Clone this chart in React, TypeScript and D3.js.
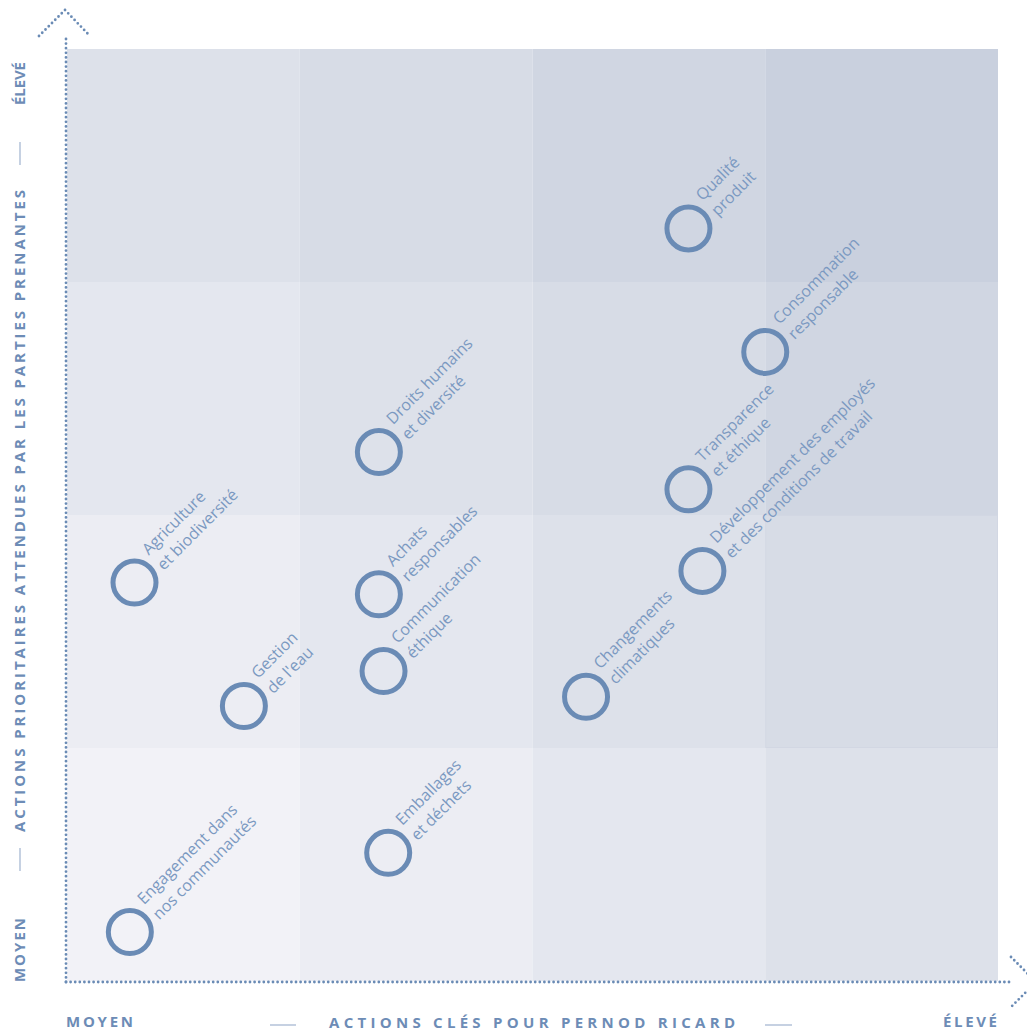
import React from "react";
import * as d3 from "d3";

const labelLine1 = [
  "Qualité",
  "Consommation",
  "Droits humains",
  "Transparence",
  "Agriculture",
  "Développement des employés",
  "Achats",
  "Communication",
  "Gestion",
  "Changements",
  "Emballages",
  "Engagement dans",
];
const labelLine2 = [
  "produit",
  "responsable",
  "et diversité",
  "et éthique",
  "et biodiversité",
  "et des conditions de travail",
  "responsables",
  "éthique",
  "de l'eau",
  "climatiques",
  "et déchets",
  "nos communautés",
];
const keyActions = [2.67, 3.0, 1.34, 2.67, 0.29, 2.73, 1.34, 1.36, 0.76, 2.23, 1.38, 0.27];
const stakeholderPriority = [3.23, 2.7, 2.27, 2.11, 1.71, 1.76, 1.66, 1.33, 1.18, 1.22, 0.55, 0.21];

const levels = [0, 1, 2, 3];
const cellColors = ["#f2f2f7", "#ecedf3", "#e4e7ef", "#dde1ea", "#d7dce6", "#d0d6e2", "#c9d0de"];

const xAxisLabel = "ACTIONS CLÉS POUR PERNOD RICARD";
const yAxisLabel = "ACTIONS PRIORITAIRES ATTENDUES PAR LES PARTIES PRENANTES";
const lowLabel = "MOYEN";
const highLabel = "ÉLEVÉ";

const W = 1027;
const H = 1032;
const plot = { left: 67, right: 998, top: 49, bottom: 981 };

export default function App() {
  const x = d3.scaleLinear().domain([0, 4]).range([plot.left, plot.right]);
  const y = d3.scaleLinear().domain([0, 4]).range([plot.bottom, plot.top]);
  const markColor = "#6a8bb5";
  const textColor = "#7b99c1";
  const axisColor = "#6d8cb6";
  const font = "'Open Sans', 'DejaVu Sans', sans-serif";

  const cells: { c: number; r: number }[] = [];
  levels.forEach((c) => levels.forEach((r) => cells.push({ c, r })));

  const dotted = {
    stroke: markColor,
    strokeWidth: 2.8,
    strokeDasharray: "0 4.6",
    strokeLinecap: "round" as const,
    fill: "none",
  };

  return (
    <svg
      width={W}
      height={H}
      style={{ position: "absolute", left: 0, top: 0, background: "#ffffff" }}
    >
      {cells.map(({ c, r }) => (
        <rect
          key={`${c}-${r}`}
          x={x(c)}
          y={y(r + 1)}
          width={x(c + 1) - x(c)}
          height={y(r) - y(r + 1)}
          fill={cellColors[c + r]}
        />
      ))}
      <rect
        x={x(3) + 0.5}
        y={y(2) + 0.5}
        width={x(4) - x(3) - 1}
        height={y(1) - y(2) - 1}
        fill="none"
        stroke="#d2d7e3"
        strokeWidth={1}
      />

      {/* axes */}
      <line x1={66} y1={982} x2={66} y2={37} style={dotted} />
      <polyline points="39,36 65,10 90,36" style={dotted} />
      <line x1={66} y1={982} x2={1012} y2={982} style={dotted} />
      <polyline points="1011,957 1036,982 1011,1007" style={dotted} />

      {/* marks */}
      {keyActions.map((v, i) => {
        const cx = x(v);
        const cy = y(stakeholderPriority[i]);
        return (
          <g key={i}>
            <circle cx={cx} cy={cy} r={21.5} fill="none" stroke={markColor} strokeWidth={5} />
            <g transform={`translate(${cx},${cy}) rotate(-45)`}>
              <text
                x={29}
                y={-9}
                fill={textColor}
                fontFamily={font}
                fontSize={16}
                fontWeight={400}
              >
                {labelLine1[i]}
              </text>
              <text
                x={29}
                y={12.5}
                fill={textColor}
                fontFamily={font}
                fontSize={16}
                fontWeight={400}
              >
                {labelLine2[i]}
              </text>
            </g>
          </g>
        );
      })}

      {/* bottom axis labels */}
      <g fill={axisColor} fontFamily={font} fontWeight={700} fontSize={15}>
        <text x={66} y={1027} textLength={67} lengthAdjust="spacing">
          {lowLabel}
        </text>
        <text x={329} y={1028} textLength={406} lengthAdjust="spacing">
          {xAxisLabel}
        </text>
        <text x={943} y={1027} textLength={54} lengthAdjust="spacing">
          {highLabel}
        </text>
      </g>
      <line x1={270} y1={1025} x2={296} y2={1025} stroke="#9fb3cf" strokeWidth={1.2} />
      <line x1={765} y1={1025} x2={792} y2={1025} stroke="#9fb3cf" strokeWidth={1.2} />

      {/* left axis labels */}
      <g fill={axisColor} fontFamily={font} fontWeight={700} fontSize={15}>
        <text
          transform="translate(25,982) rotate(-90)"
          textLength={64}
          lengthAdjust="spacing"
        >
          {lowLabel}
        </text>
        <text
          transform="translate(25,832) rotate(-90)"
          textLength={642}
          lengthAdjust="spacing"
        >
          {yAxisLabel}
        </text>
        <text
          transform="translate(25,105) rotate(-90)"
          textLength={43}
          lengthAdjust="spacing"
        >
          {highLabel}
        </text>
      </g>
      <line x1={20} y1={848} x2={20} y2={871} stroke="#9fb3cf" strokeWidth={1.2} />
      <line x1={20} y1={142} x2={20} y2={165} stroke="#9fb3cf" strokeWidth={1.2} />
    </svg>
  );
}
